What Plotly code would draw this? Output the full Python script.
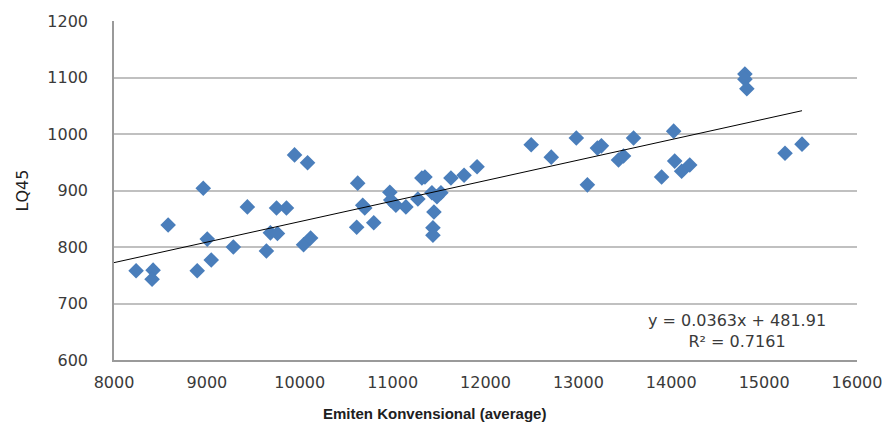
import plotly.graph_objects as go

# Average of conventional issuers vs LQ45 index
emiten_avg = [
    8238, 8421, 8410, 8583, 8896, 8961, 9004, 9047, 9285, 9436,
    9641, 9684, 9760, 9750, 9857, 9944, 10084, 10041, 10117, 10624,
    10613, 10678, 10700, 10797, 10970, 10980, 11035, 11143, 11272, 11315,
    11348, 11423, 11477, 11445, 11434, 11434, 11520, 11628, 11769, 11909,
    12492, 12708, 12978, 13097, 13205, 13248, 13432, 13486, 13594, 13896,
    14026, 14037, 14112, 14199, 14793, 14793, 14814, 15225, 15408,
]
lq45 = [
    758, 759, 743, 839, 758, 904, 814, 777, 800, 871,
    793, 825, 824, 869, 869, 963, 949, 804, 816, 913,
    835, 874, 869, 843, 897, 883, 874, 871, 885, 922,
    924, 896, 889, 862, 834, 821, 896, 922, 927, 942,
    981, 959, 993, 910, 975, 979, 954, 961, 993, 924,
    1005, 952, 934, 945, 1106, 1097, 1080, 966, 982,
]

# Linear trendline coefficients and goodness of fit
slope = 0.0363
intercept = 481.91
r_squared = 0.7161

x_ticks = [8000, 9000, 10000, 11000, 12000, 13000, 14000, 15000, 16000]
y_ticks = [600, 700, 800, 900, 1000, 1100, 1200]

trend_x = [x_ticks[0], max(emiten_avg)]
trend_y = [slope * v + intercept for v in trend_x]

fig = go.Figure()
fig.add_trace(go.Scatter(
    x=emiten_avg, y=lq45, mode="markers",
    marker=dict(symbol="diamond", size=12, color="#4a7ebb",
                line=dict(width=0)),
    showlegend=False, hoverinfo="x+y",
))
fig.add_trace(go.Scatter(
    x=trend_x, y=trend_y, mode="lines",
    line=dict(color="#000000", width=1),
    showlegend=False, hoverinfo="skip",
))

tick_font = dict(family="DejaVu Sans", size=16, color="#3a3a3a")

fig.update_layout(
    width=890, height=426,
    margin=dict(l=114, r=33, t=21, b=66),
    paper_bgcolor="white", plot_bgcolor="white",
    xaxis=dict(
        range=[x_ticks[0], x_ticks[-1]], tickvals=x_ticks,
        ticktext=[str(v) for v in x_ticks],
        showgrid=False, zeroline=False, automargin=False,
        showline=True, linecolor="#9a9a9a", linewidth=1.5,
        ticks="", tickfont=tick_font, ticklabelstandoff=7,
    ),
    yaxis=dict(
        range=[y_ticks[0], y_ticks[-1]], tickvals=y_ticks,
        ticktext=[str(v) for v in y_ticks],
        showgrid=True, gridcolor="#c0c0c0", gridwidth=1.5,
        zeroline=False, automargin=False,
        showline=True, linecolor="#9a9a9a", linewidth=1.5,
        ticks="", tickfont=tick_font, ticklabelstandoff=21,
    ),
    annotations=[
        dict(text="<b>Emiten Konvensional (average)</b>",
             xref="paper", yref="paper", x=0.432, y=-0.159,
             xanchor="center", yanchor="middle", showarrow=False,
             font=dict(family="Liberation Sans", size=15, color="#202020")),
        dict(text="LQ45", textangle=-90,
             xref="paper", yref="paper", x=-0.1225, y=0.5,
             xanchor="center", yanchor="middle", showarrow=False,
             font=dict(family="DejaVu Sans", size=16, color="#202020")),
        dict(text=f"y = {slope}x + {intercept}<br>R² = {r_squared}",
             xref="paper", yref="paper", x=0.8385, y=0.087,
             xanchor="center", yanchor="middle", showarrow=False,
             align="center",
             font=dict(family="DejaVu Sans", size=16, color="#3a3a3a")),
    ],
)

fig.write_html("out.html")
